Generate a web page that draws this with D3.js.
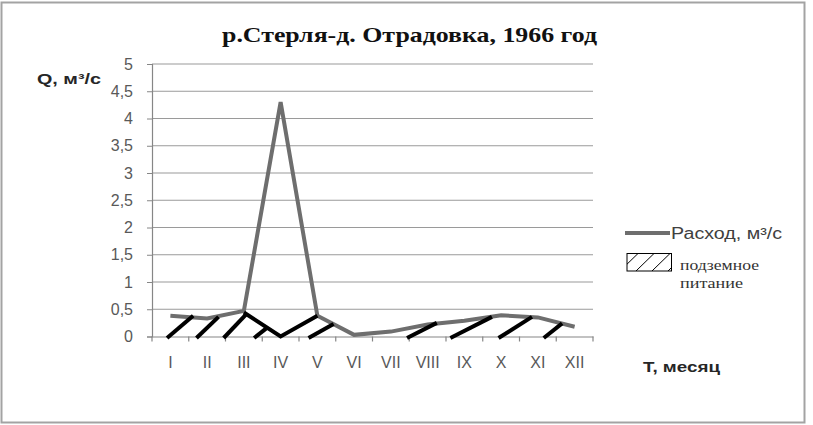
<!DOCTYPE html>
<html><head><meta charset="utf-8">
<script src="https://cdn.jsdelivr.net/npm/d3@7"></script>
<style>html,body{margin:0;padding:0;background:#fff;}</style>
</head><body>
<svg id="c" width="813" height="425"></svg>
<script>
const months = ["I","II","III","IV","V","VI","VII","VIII","IX","X","XI","XII"];
const discharge = [0.38,0.33,0.47,4.30,0.38,0.03,0.09,0.22,0.29,0.39,0.35,0.18];
const yTickValues = [0,0.5,1,1.5,2,2.5,3,3.5,4,4.5,5];
// hand-drawn groundwater (baseflow) cut line under the flood peak
const baseflowMonths = ["III","IV","V"];
const baseflowValues = [0.44,0.0,0.38];
// hatch strokes: start position (month index, at Q=0) -> end position (month index, value)
const hatchFrom = [-0.09,0.71,1.45,2.28,3.76,6.44,7.62,8.93,10.16];
const hatchTo   = [0.62,1.31,2.08,2.61,4.44,7.25,8.75,9.84,10.66];
const hatchTop  = [0.38,0.36,0.42,0.15,0.23,0.25,0.36,0.36,0.24];

(function(){
const svg = d3.select("#c");
const pL = 152, pR = 593, pT = 64, pB = 336.5;

svg.append("rect").attr("x",1.5).attr("y",2.5).attr("width",803).attr("height",420)
  .attr("fill","#fff").attr("stroke","#a3a3a3").attr("stroke-width",2);

const x = d3.scaleBand().domain(months).range([pL,pR]).padding(0);
const bw = x.bandwidth();
const xm = d3.scaleLinear().domain([0,11]).range([x("I")+bw/2, x("XII")+bw/2]);
const y = d3.scaleLinear().domain([0,5]).range([pB, pT]);

// gridlines
svg.append("g").selectAll("line").data(yTickValues.filter(v=>v>0)).join("line")
  .attr("x1",pL).attr("x2",pR).attr("y1",d=>y(d)).attr("y2",d=>y(d))
  .attr("stroke","#9a9a9a").attr("stroke-width",1.2);

// y axis
const fmt = d => String(d).replace(".",",");
const ya = svg.append("g").attr("transform",`translate(${pL},0)`)
  .call(d3.axisLeft(y).tickValues(yTickValues).tickFormat(fmt).tickSize(5).tickPadding(14));
ya.select(".domain").attr("stroke","#868686").attr("stroke-width",1.2);
ya.selectAll(".tick line").attr("stroke","#868686");
ya.selectAll("text").attr("fill","#595959").style("font-family","Liberation Sans, Arial, sans-serif").style("font-size","16px");

// x axis: labels at centres, ticks at boundaries
const xa = svg.append("g").attr("transform",`translate(0,${pB})`)
  .call(d3.axisBottom(x).tickSize(0).tickPadding(20));
xa.select(".domain").attr("stroke","#868686").attr("stroke-width",1.2);
xa.selectAll("text").attr("fill","#595959").style("font-family","Liberation Sans, Arial, sans-serif").style("font-size","16px");
const bounds = months.map(m=>x(m)).concat([x(months[months.length-1])+bw]);
svg.append("g").selectAll("line").data(bounds).join("line")
  .attr("x1",d=>d).attr("x2",d=>d).attr("y1",pB).attr("y2",pB+5)
  .attr("stroke","#868686").attr("stroke-width",1.2);

// discharge line
const line = d3.line().x((d,i)=>x(months[i])+bw/2).y(d=>y(d));
svg.append("path").datum(discharge).attr("d",line)
  .attr("fill","none").attr("stroke","#6e6e6e").attr("stroke-width",4).attr("stroke-linejoin","miter");

// baseflow cut line
const bl = d3.line().x((d,i)=>x(baseflowMonths[i])+bw/2).y(d=>y(d));
svg.append("path").datum(baseflowValues).attr("d",bl)
  .attr("fill","none").attr("stroke","#000").attr("stroke-width",4);

// hatch strokes
svg.append("g").selectAll("line").data(hatchFrom).join("line")
  .attr("x1",d=>xm(d)).attr("y1",y(0)+1.5)
  .attr("x2",(d,i)=>xm(hatchTo[i])).attr("y2",(d,i)=>y(hatchTop[i]))
  .attr("stroke","#000").attr("stroke-width",4);

// axis titles
svg.append("text").attr("x",37).attr("y",84)
  .style("font-family","Liberation Sans, Arial, sans-serif").style("font-size","15px").style("font-weight","bold")
  .attr("fill","#262626").attr("textLength",64).attr("lengthAdjust","spacingAndGlyphs")
  .text("Q, м³/с");
svg.append("text").attr("x",643).attr("y",372)
  .style("font-family","Liberation Sans, Arial, sans-serif").style("font-size","15px").style("font-weight","bold")
  .attr("fill","#262626").attr("textLength",77).attr("lengthAdjust","spacingAndGlyphs")
  .text("T, месяц");

// title
svg.append("text").attr("x",222).attr("y",42)
  .style("font-family","Liberation Serif, Times New Roman, serif").style("font-size","21px").style("font-weight","bold")
  .attr("fill","#111").attr("textLength",375).attr("lengthAdjust","spacingAndGlyphs")
  .text("р.Стерля-д. Отрадовка, 1966 год");

// legend
svg.append("line").attr("x1",625).attr("x2",670).attr("y1",233).attr("y2",233)
  .attr("stroke","#6e6e6e").attr("stroke-width",4);
svg.append("text").attr("x",671).attr("y",239)
  .style("font-family","Liberation Sans, Arial, sans-serif").style("font-size","16px")
  .attr("fill","#404040").attr("textLength",111).attr("lengthAdjust","spacingAndGlyphs")
  .text("Расход, м³/с");
const lg = svg.append("g");
lg.append("rect").attr("x",627).attr("y",253.5).attr("width",44.5).attr("height",17.5)
  .attr("fill","#fff").attr("stroke","#000").attr("stroke-width",1);
const clip = svg.append("clipPath").attr("id","lgclip");
clip.append("rect").attr("x",627).attr("y",253.5).attr("width",44.5).attr("height",17.5);
const legendHatch = [0,1,2,3];
lg.append("g").attr("clip-path","url(#lgclip)").selectAll("line").data(legendHatch).join("line")
  .attr("x1",d=>620+d*16).attr("y1",271).attr("x2",d=>638+d*16).attr("y2",253.5)
  .attr("stroke","#000").attr("stroke-width",1);
svg.append("text").attr("x",680).attr("y",270)
  .style("font-family","Liberation Serif, Times New Roman, serif").style("font-size","14px")
  .attr("fill","#333").attr("textLength",79).attr("lengthAdjust","spacingAndGlyphs")
  .text("подземное");
svg.append("text").attr("x",680).attr("y",288)
  .style("font-family","Liberation Serif, Times New Roman, serif").style("font-size","14px")
  .attr("fill","#333").attr("textLength",63).attr("lengthAdjust","spacingAndGlyphs")
  .text("питание");
})();
</script>
</body></html>
